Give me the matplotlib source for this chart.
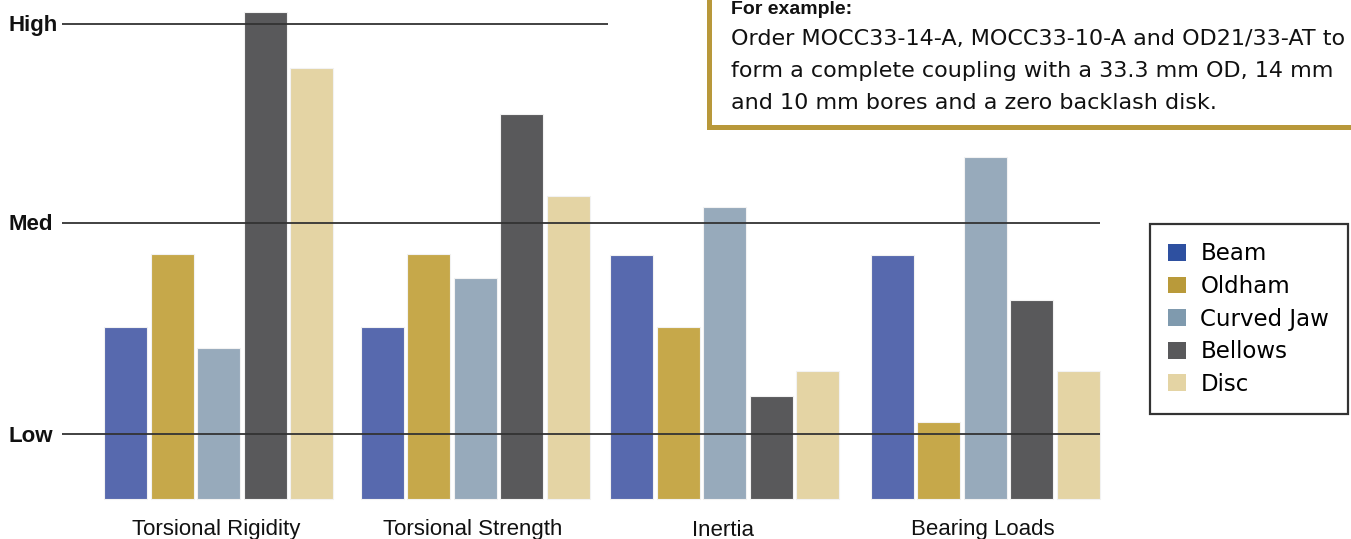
import matplotlib.pyplot as plt
from matplotlib.patches import Patch, Rectangle
import numpy as np

# categories and series (bar heights in chart units above the baseline)
categories = ['Torsional Rigidity', 'Torsional Strength', 'Inertia', 'Bearing Loads']
series = ['Beam', 'Oldham', 'Curved Jaw', 'Bellows', 'Disc']
beam = [172, 172, 244, 244]
oldham = [245, 245, 172, 77]
curved_jaw = [151, 221, 292, 342]
bellows = [487, 385, 103, 199]
disc = [431, 303, 128, 128]
level_labels = ['Low', 'Med', 'High']
level_values = [65, 276, 475]

bar_colors = ['#5769ae', '#c6a84a', '#97aabb', '#59595b', '#e4d4a4']
legend_colors = ['#2e50a0', '#b99a3a', '#7f9aae', '#59595b', '#e4d4a4']

W, H = 1351, 539
fig = plt.figure(figsize=(W / 100, H / 100), dpi=100)
ax = fig.add_axes([0, 0, 1, 1])
ax.set_xlim(0, W)
ax.set_ylim(-40, 499)
ax.axis('off')

group_x = np.array([218.5, 475, 724.5, 985])
step = 46.5
width = 43
for i, vals in enumerate([beam, oldham, curved_jaw, bellows, disc]):
    ax.bar(group_x + (i - 2) * step, vals, width=width, color=bar_colors[i],
           edgecolor='#f2f2f2', linewidth=0.8, zorder=2)

# level lines
ax.hlines(level_values[0], 62, 1100, color='#333333', lw=1.3, zorder=3)
ax.hlines(level_values[1], 62, 1100, color='#333333', lw=1.3, zorder=3)
ax.hlines(level_values[2], 62, 608, color='#333333', lw=1.3, zorder=3)
for lab, v in zip(level_labels, level_values):
    ax.text(8, v - 2, lab, ha='left', va='center', fontsize=16, fontweight='bold',
            family='Liberation Sans', color='#111111')

for cx, cat in zip(group_x, categories):
    ax.text(cx - 2, -31, cat, ha='center', va='center', fontsize=16,
            family='Liberation Sans', color='#111111')

# example box
box = Rectangle((709 / W, 1 - 127 / H), 0.6, 0.4, transform=fig.transFigure,
                facecolor='white', edgecolor='#b8983a', linewidth=3.6, zorder=5)
fig.patches.append(box)
fig.text(731 / W, 1 - 9 / H, 'For example:', ha='left', va='center', fontsize=14,
         fontweight='bold', family='Liberation Sans', color='#111111', zorder=6)
lines = ['Order MOCC33-14-A, MOCC33-10-A and OD21/33-AT to',
         'form a complete coupling with a 33.3 mm OD, 14 mm',
         'and 10 mm bores and a zero backlash disk.']
for k, ln in enumerate(lines):
    fig.text(731 / W, 1 - (39 + 32 * k) / H, ln, ha='left', va='center', fontsize=16,
             family='DejaVu Sans', color='#111111', zorder=6)

handles = [Patch(facecolor=c, edgecolor='none') for c in legend_colors]
leg = fig.legend(handles, series, loc='upper left',
                 bbox_to_anchor=(1150 / W, 1 - 224 / H), fontsize=16.5,
                 frameon=True, fancybox=False, borderpad=0.8, labelspacing=0.42,
                 handlelength=0.75, handleheight=0.75, handletextpad=0.65,
                 borderaxespad=0)
leg.get_frame().set_edgecolor('black')
leg.get_frame().set_linewidth(1.6)

fig.savefig('out.png', dpi=100)
